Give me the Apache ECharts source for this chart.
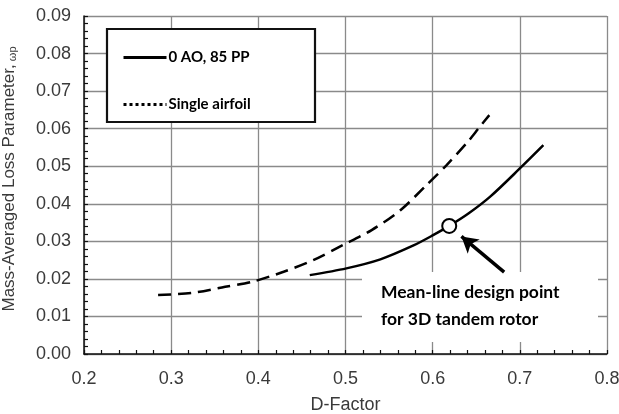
<!DOCTYPE html>
<html>
<head>
<meta charset="utf-8">
<script src="https://cdn.jsdelivr.net/npm/echarts@6/dist/echarts.min.js"></script>
<style>html,body{margin:0;padding:0;background:#fff}#c{width:619px;height:414px}</style>
</head>
<body>
<div id="c"></div>
<script>
// ---- data ----
const tandemX = [0.459, 0.501, 0.540, 0.578, 0.601, 0.619, 0.641, 0.666, 0.700, 0.727];
const tandemY = [0.0210, 0.0228, 0.0252, 0.0289, 0.0317, 0.0341, 0.0374, 0.0419, 0.0494, 0.0556];
const singleX = [0.285, 0.325, 0.362, 0.394, 0.429, 0.463, 0.497, 0.530, 0.563, 0.593, 0.616, 0.641, 0.654, 0.665];
const singleY = [0.0157, 0.0163, 0.0179, 0.0193, 0.0219, 0.0250, 0.0290, 0.0330, 0.0383, 0.0450, 0.0503, 0.0567, 0.0605, 0.0636];
const designPoint = [0.619, 0.0341];
const arrowFrom = [0.682, 0.0218];
const arrowTo = [0.633, 0.0313];
const seriesNames = ['0 AO, 85 PP', 'Single airfoil'];
const xTicks = [0.2, 0.3, 0.4, 0.5, 0.6, 0.7, 0.8];
const yTicks = [0, 0.01, 0.02, 0.03, 0.04, 0.05, 0.06, 0.07, 0.08, 0.09];

const zip = (a, b) => a.map((v, i) => [v, b[i]]);
const chart = echarts.init(document.getElementById('c'));
const tickColor = '#3a3a3a';
chart.setOption({
  animation: false,
  grid: {left: 84, right: 12, top: 16, bottom: 60, containLabel: false, outerBoundsMode: 'none'},
  xAxis: {
    type: 'value', min: xTicks[0], max: xTicks[xTicks.length - 1], interval: 0.1,
    name: 'D-Factor', nameLocation: 'middle', nameGap: 42,
    nameTextStyle: {fontFamily: 'Liberation Sans', fontSize: 18, color: tickColor},
    axisLine: {lineStyle: {color: '#111', width: 1.5}},
    axisTick: {inside: true, length: 4, lineStyle: {color: '#111', width: 1.2}},
    minorTick: {show: true, splitNumber: 5, length: 4, lineStyle: {color: '#111', width: 1.2}},
    axisLabel: {fontFamily: 'Liberation Sans', fontSize: 18, color: tickColor, margin: 16,
      formatter: v => v.toFixed(1)},
    splitLine: {show: true, lineStyle: {color: '#8a8a8a', width: 1.3}}
  },
  yAxis: {
    type: 'value', min: yTicks[0], max: yTicks[yTicks.length - 1], interval: 0.01,
    name: '{a|Mass-Averaged Loss Parameter,}{s| ωp}', nameLocation: 'middle', nameGap: 66,
    nameTextStyle: {
      padding: [0, 0, 0, 12],
      rich: {
        a: {fontFamily: 'Liberation Sans', fontSize: 17, color: tickColor},
        s: {fontFamily: 'Liberation Sans', fontSize: 11, color: tickColor, verticalAlign: 'bottom', padding: [6, 0, 0, 0]}
      }
    },
    axisLine: {show: true, lineStyle: {color: '#111', width: 1.5}},
    axisTick: {show: true, inside: true, length: 4, lineStyle: {color: '#111', width: 1.2}},
    minorTick: {show: true, splitNumber: 5, length: 4, lineStyle: {color: '#111', width: 1.2}},
    axisLabel: {fontFamily: 'Liberation Sans', fontSize: 18, color: tickColor, margin: 13,
      formatter: v => v.toFixed(2)},
    splitLine: {show: true, lineStyle: {color: '#8a8a8a', width: 1.3}}
  },
  legend: {
    orient: 'vertical', left: 117, top: 45, itemWidth: 43, itemHeight: 14, itemGap: 32,
    itemStyle: {color: 'rgba(0,0,0,0)', borderWidth: 0, opacity: 0},
    data: [
      {name: seriesNames[0], lineStyle: {type: 'solid', width: 3}},
      {name: seriesNames[1], lineStyle: {type: 'dotted', width: 3}}
    ],
    textStyle: {fontFamily: 'Lato', fontWeight: 'bold', fontSize: 15, color: '#000', padding: [0, 0, 0, -3]}
  },
  graphic: [
    {type: 'rect', z: 1, shape: {x: 107, y: 29, width: 208, height: 93},
      style: {fill: '#fff', stroke: '#111', lineWidth: 2.2}},
    {type: 'rect', z: 1, shape: {x: 362, y: 272, width: 236, height: 70},
      style: {fill: '#fff', stroke: null}},
    {type: 'text', z: 5, left: 381, top: 283,
      style: {text: 'Mean-line design point', font: 'bold 17.5px Lato', fill: '#000'}},
    {type: 'text', z: 5, left: 381, top: 310,
      style: {text: 'for 3D tandem rotor', font: 'bold 17.5px Lato', fill: '#000'}}
  ],
  series: [
    {name: seriesNames[0], type: 'line', smooth: 0.3, symbol: 'none', z: 3,
      data: zip(tandemX, tandemY), lineStyle: {color: '#000', width: 2.5}, itemStyle: {color: '#000'}},
    {name: seriesNames[1], type: 'line', smooth: 0.3, symbol: 'none', z: 3,
      data: zip(singleX, singleY), lineStyle: {color: '#000', width: 2.5, type: [13, 7]}, itemStyle: {color: '#000'}},
    {name: 'design', type: 'scatter', z: 6, symbol: 'circle', symbolSize: 14,
      data: [designPoint], itemStyle: {color: '#fff', borderColor: '#000', borderWidth: 2, opacity: 1},
      markLine: {silent: true, symbol: ['none', 'arrow'], symbolSize: [14, 16],
        label: {show: false}, lineStyle: {color: '#000', width: 3.5, type: 'solid'},
        data: [[{coord: arrowFrom}, {coord: arrowTo}]]}}
  ]
});
</script>
</body>
</html>
